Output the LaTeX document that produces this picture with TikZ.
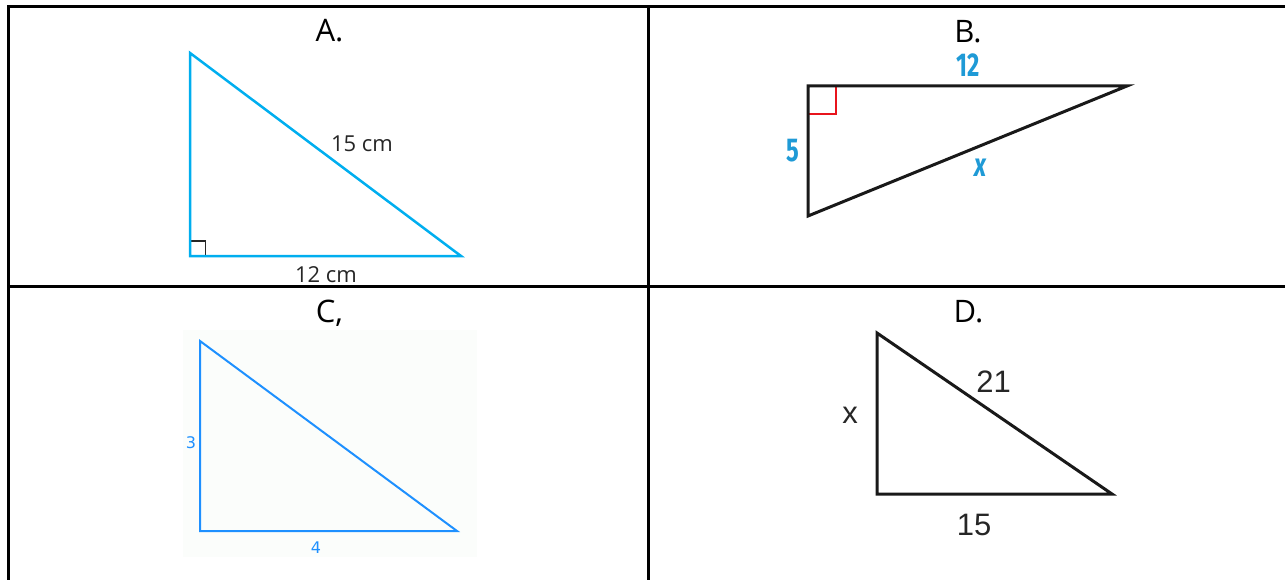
\documentclass[tikz,border=0pt]{standalone}
\usepackage{fontspec}
\setmainfont{Open Sans}
\newfontfamily\titlefont{Open Sans}
\newfontfamily\condfont[FakeStretch=0.72]{Fira Sans}
\newfontfamily\cfont{DejaVu Sans}
\newfontfamily\dfont{Liberation Sans}
\definecolor{acyan}{RGB}{0,174,239}
\definecolor{cblue}{RGB}{30,144,255}
\definecolor{blab}{RGB}{31,154,214}
\definecolor{bred}{RGB}{232,20,28}
\definecolor{cbg}{RGB}{251,253,251}
\begin{document}
\begin{tikzpicture}[x=1pt,y=-1pt,
  grid/.style={line width=3pt,black},
  title/.style={font=\titlefont\fontsize{31}{34}\selectfont,inner sep=0pt,anchor=base},
  alab/.style={font=\fontsize{22}{26}\selectfont,text=black!85,inner sep=0pt,anchor=base},
  blabs/.style={font=\condfont\bfseries\fontsize{33}{36}\selectfont,text=blab,inner sep=0pt,anchor=base},
  clab/.style={font=\cfont\fontsize{16}{19}\selectfont,text=cblue,inner sep=0pt,anchor=base},
  dlab/.style={font=\dfont\fontsize{31}{34}\selectfont,text=black!85,inner sep=0pt,anchor=base},
  atri/.style={draw=acyan,line width=2.5pt,line join=miter},
  btri/.style={draw=black!90,line width=3pt,line join=miter},
  ctri/.style={draw=cblue,line width=2pt,line join=miter},
  dtri/.style={draw=black!90,line width=3pt,line join=miter}]
\useasboundingbox (0,0) rectangle (1285,580);
% table grid
\coordinate (tl) at (8.5,7);
\coordinate (tr) at (1285,7);
\coordinate (bl) at (8.5,580);
\coordinate (mt) at (648,7);
\coordinate (mb) at (648,580);
\coordinate (ml) at (8.5,286);
\coordinate (mr) at (1285,286);
\draw[grid] (bl) -- (tl) -- (tr);
\draw[grid] (mt) -- (mb);
\draw[grid] (ml) -- (mr);
% titles
\node[title] (tA) at (329.5,42) {A.};
\node[title] (tB) at (968,43) {B.};
\node[title] (tC) at (329.5,322) {C,};
\node[title] (tD) at (968.5,322) {D.};
% A
\coordinate (a1) at (190,53);
\coordinate (a2) at (190,256);
\coordinate (a3) at (461,256);
\draw[draw=black!85,line width=1.5pt] (190,241) -- (205.5,241) -- (205.5,256);
\draw[atri] (a1) -- (a2) -- (a3) -- cycle;
\node[alab] (a15) at (362,152) {15 cm};
\node[alab] (a12) at (326,282) {12 cm};
% B
\coordinate (b1) at (808,86);
\coordinate (b2) at (1127,86);
\coordinate (b3) at (808,216);
\draw[draw=bred,line width=2.5pt] (808,114) -- (836,114) -- (836,86);
\draw[btri] (b1) -- (b2) -- (b3) -- cycle;
\node[blabs] (b12) at (968,77) {12};
\node[blabs] (b5) at (793,162) {5};
\node[blabs,font=\condfont\bfseries\itshape\fontsize{33}{36}\selectfont] (bx) at (980,177) {x};
% C
\fill[cbg] (183,330) rectangle (477,557);
\coordinate (c1) at (200,341);
\coordinate (c2) at (200,531);
\coordinate (c3) at (457,531);
\draw[ctri] (c1) -- (c2) -- (c3) -- cycle;
\node[clab] (c3l) at (191,448) {3};
\node[clab] (c4l) at (316,553) {4};
% D
\coordinate (d1) at (877,333);
\coordinate (d2) at (877,494);
\coordinate (d3) at (1112,494);
\draw[dtri] (d1) -- (d2) -- (d3) -- cycle;
\node[dlab] (d21) at (993.5,392) {21};
\node[dlab] (dx) at (850,423) {x};
\node[dlab] (d15) at (974,535) {15};
\end{tikzpicture}
\end{document}
